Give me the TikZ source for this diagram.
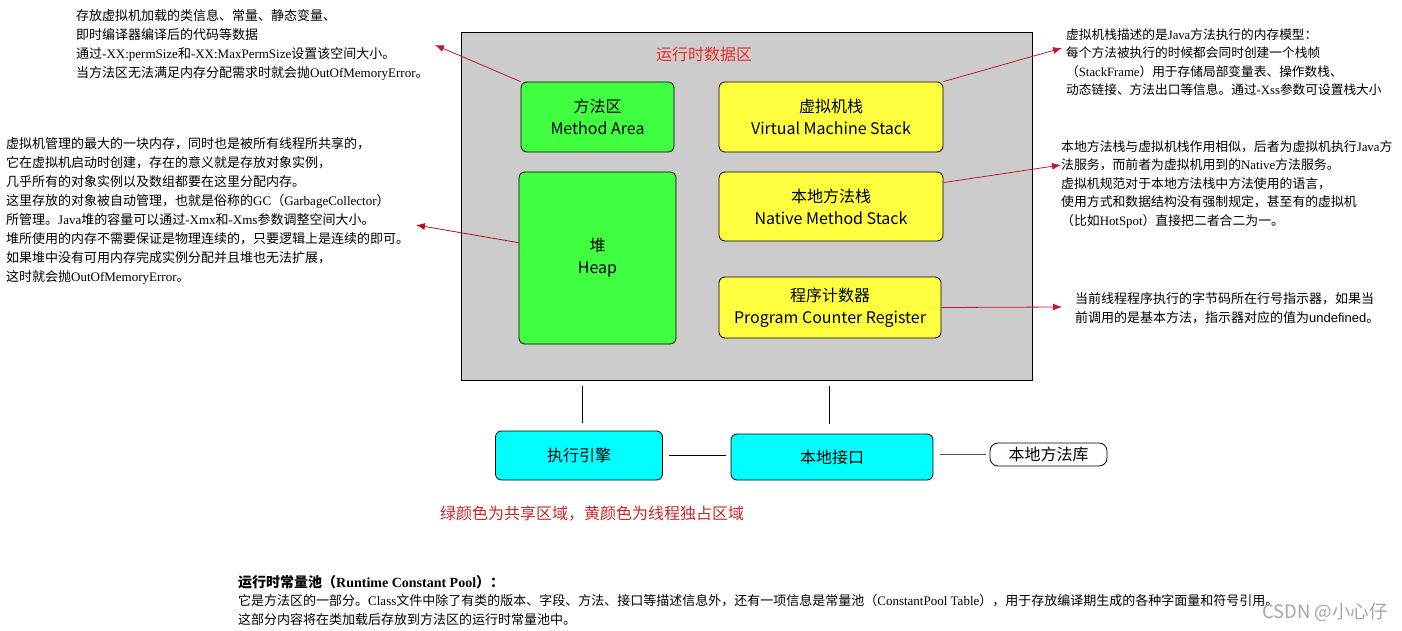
\documentclass[tikz,border=0pt]{standalone}
\usepackage{fontspec}
\usetikzlibrary{arrows.meta}
\setmainfont{Liberation Serif}
\newfontfamily\cjk{Noto Sans CJK SC}
\newfontfamily\lsans{Liberation Sans}
\newfontfamily\lserif{Liberation Serif}
\let\curlat\lserif
\newXeTeXintercharclass\mycjkclass
\makeatletter
\count@="2E80
\loop \XeTeXcharclass\count@=\mycjkclass \ifnum\count@<"9FFF \advance\count@ 1 \repeat
\count@="FF00
\loop \XeTeXcharclass\count@=\mycjkclass \ifnum\count@<"FFEF \advance\count@ 1 \repeat
\makeatother
\XeTeXinterchartoks 0 \mycjkclass = {\cjk}
\XeTeXinterchartoks \mycjkclass 0 = {\curlat}
\XeTeXinterchartokenstate=1

\definecolor{mygreen}{RGB}{64,255,64}
\definecolor{myyellow}{RGB}{255,255,64}
\definecolor{mycyan}{RGB}{0,255,255}
\definecolor{areagray}{RGB}{204,204,204}
\definecolor{titlered}{RGB}{232,48,40}
\definecolor{legendred}{RGB}{200,40,40}
\definecolor{arrowred}{RGB}{196,24,46}

\def\boxfont{\fontsize{16}{22}\selectfont\let\curlat\lsans\cjk}
\def\notefont{\fontsize{13}{19}\selectfont\let\curlat\lserif\cjk}

\tikzset{
  region/.style={draw=black, rounded corners=6pt, line width=0.8pt, align=center, font=\boxfont, inner sep=0pt},
  shared/.style={region, fill=mygreen},
  thread/.style={region, fill=myyellow},
  engine/.style={region, fill=mycyan},
  note/.style={align=left, anchor=north west, inner sep=0pt, font=\notefont},
  pointer/.style={-{Latex[length=9pt,width=7pt]}, draw=arrowred, line width=0.8pt},
  link/.style={draw=black, line width=0.7pt}
}

\begin{document}
\begin{tikzpicture}[x=1pt,y=-1pt]
\useasboundingbox (0,0) rectangle (1402,631);

% runtime data area
\node[draw=black, fill=areagray, line width=1pt, minimum width=571pt, minimum height=347pt, inner sep=0pt] (runtime) at (746.5,206.5) {};
\node[font=\fontsize{16}{20}\selectfont\cjk, text=titlered, inner sep=0pt] (title) at (704,54) {运行时数据区};

\node[shared, minimum width=153pt, minimum height=70pt] (ma) at (597.5,117) {方法区\\Method Area};
\node[thread, minimum width=224pt, minimum height=70pt] (vm) at (831,117) {虚拟机栈\\Virtual Machine Stack};
\node[shared, minimum width=157pt, minimum height=172pt] (heap) at (597.5,258) {堆\\Heap};
\node[thread, minimum width=224pt, minimum height=69pt] (native) at (831,206.5) {本地方法栈\\Native Method Stack};
\node[thread, minimum width=222pt, minimum height=61pt] (pc) at (830,307.5) {程序计数器\\Program Counter Register};

% lower row
\node[engine, minimum width=167pt, minimum height=49pt] (exec) at (579,455.5) {执行引擎};
\node[engine, minimum width=202pt, minimum height=46pt] (nif) at (832,457) {本地接口};
\node[region, fill=white, rounded corners=8pt, minimum width=117pt, minimum height=23pt] (lib) at (1048.5,454.5) {本地方法库};

\draw[link, shorten <=6pt, shorten >=8pt] (582,380) -- (582,431);
\draw[link, shorten <=5pt, shorten >=10pt] (runtime.south -| 829,0) -- (nif.north -| 829,0);
\draw[link, shorten <=6pt, shorten >=5pt] (exec.east) -- (exec.east -| nif.west);
\draw[link, draw=black!65, shorten <=7pt, shorten >=4pt] (nif.east |- lib.west) -- (lib.west);

\node[font=\fontsize{16}{20}\selectfont\cjk, text=legendred, anchor=west, inner sep=0pt] (legend) at (440,514) {绿颜色为共享区域，黄颜色为线程独占区域};

% notes
\node[note] (maNote) at (76,9.5) {存放虚拟机加载的类信息、常量、静态变量、\\即时编译器编译后的代码等数据\\通过-XX:permSize和-XX:MaxPermSize设置该空间大小。\\当方法区无法满足内存分配需求时就会抛OutOfMemoryError。};
\node[note, font=\fontsize{12.7}{18.3}\selectfont\let\curlat\lserif\cjk] (vmNote) at (1066,28.5) {虚拟机栈描述的是Java方法执行的内存模型：\\每个方法被执行的时候都会同时创建一个栈帧\\（StackFrame）用于存储局部变量表、操作数栈、\\动态链接、方法出口等信息。通过-Xss参数可设置栈大小};
\node[note] (heapNote) at (6,137.5) {虚拟机管理的最大的一块内存，同时也是被所有线程所共享的，\\它在虚拟机启动时创建，存在的意义就是存放对象实例，\\几乎所有的对象实例以及数组都要在这里分配内存。\\这里存放的对象被自动管理，也就是俗称的GC（GarbageCollector）\\所管理。Java堆的容量可以通过-Xmx和-Xms参数调整空间大小。\\堆所使用的内存不需要保证是物理连续的，只要逻辑上是连续的即可。\\如果堆中没有可用内存完成实例分配并且堆也无法扩展，\\这时就会抛OutOfMemoryError。};
\node[note, font=\fontsize{12.85}{18.4}\selectfont\let\curlat\lserif\cjk] (nativeNote) at (1061,140.5) {本地方法栈与虚拟机栈作用相似，后者为虚拟机执行Java方\\法服务，而前者为虚拟机用到的Native方法服务。\\虚拟机规范对于本地方法栈中方法使用的语言，\\使用方式和数据结构没有强制规定，甚至有的虚拟机\\（比如HotSpot）直接把二者合二为一。};
\node[note, font=\fontsize{13}{19}\selectfont\let\curlat\lsans\cjk] (pcNote) at (1075,292.5) {当前线程程序执行的字节码所在行号指示器，如果当\\前调用的是基本方法，指示器对应的值为undefined。};

\node[note, font=\fontsize{13}{18.5}\selectfont\let\curlat\lserif\cjk] (poolNote) at (238,575) {{\fontsize{14}{18.5}\selectfont\bfseries 运行时常量池（Runtime Constant Pool）：}\\它是方法区的一部分。Class文件中除了有类的版本、字段、方法、接口等描述信息外，还有一项信息是常量池（ConstantPool Table），用于存放编译期生成的各种字面量和符号引用。\\这部分内容将在类加载后存放到方法区的运行时常量池中。};

\node[font=\fontsize{18.5}{20}\selectfont\let\curlat\lsans\cjk, text=black!35, anchor=east, inner sep=0pt] (mark) at (1388,612) {CSDN @小心仔};

% pointers
\coordinate (maTip) at (435,45);
\coordinate (vmTip) at (1062,48);
\coordinate (heapTip) at (416,225);
\coordinate (nativeTip) at (1061,165);
\coordinate (pcTip) at (1062,307);
\draw[pointer] (ma.north west) -- (maTip);
\draw[pointer] (vm.north east) -- (vmTip);
\draw[pointer, draw=arrowred!85!black] (heap.169) -- (heapTip);
\draw[pointer] (native.12) -- (nativeTip);
\draw[pointer] (pc.east) -- (pcTip);
\end{tikzpicture}
\end{document}
